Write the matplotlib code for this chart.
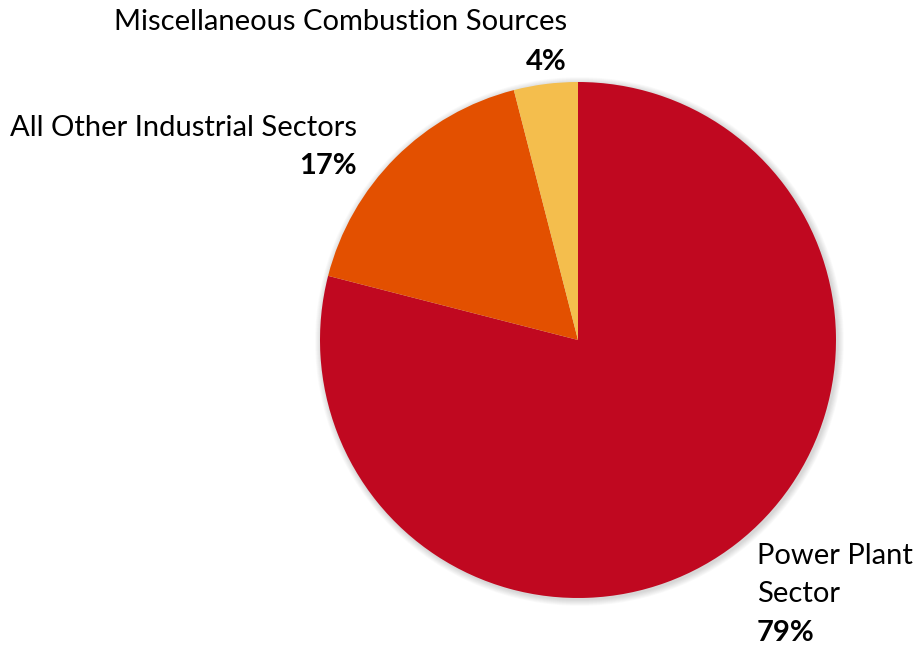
import matplotlib
matplotlib.use("Agg")
import matplotlib.pyplot as plt
from matplotlib.patches import Circle

labels = ["Power Plant\nSector", "All Other Industrial Sectors", "Miscellaneous Combustion Sources"]
shares = [79, 17, 4]
colors = ["#C00820", "#E35000", "#F4BE4D"]

W, H = 916, 646
fig = plt.figure(figsize=(W / 100, H / 100), dpi=100)
ax = fig.add_axes([0, 0, 1, 1])

cx, cy, r = 578, H - 340, 258

# soft drop shadow under the pie
for i in range(8, 0, -1):
    ax.add_patch(Circle((cx + 1.5, cy - 1.5), r + i * 0.8, color="black",
                        alpha=0.018, lw=0, zorder=1))

ax.pie(shares, colors=colors, startangle=90, counterclock=False,
       center=(cx, cy), radius=r, frame=True,
       wedgeprops=dict(linewidth=0, zorder=2))
ax.set_xlim(0, W)
ax.set_ylim(0, H)
ax.set_aspect("equal")
ax.axis("off")

font = "Lato"
fs = 21
ax.text(567, H - 22, labels[2], ha="right", va="center", fontsize=fs, family=font)
ax.text(567, H - 62, f"{shares[2]}%", ha="right", va="center", fontsize=fs,
        family=font, fontweight="bold")
ax.text(357, H - 128, labels[1], ha="right", va="center", fontsize=fs, family=font)
ax.text(357, H - 166, f"{shares[1]}%", ha="right", va="center", fontsize=fs,
        family=font, fontweight="bold")
ax.text(757, H - 556, "Power Plant", ha="left", va="center", fontsize=fs, family=font)
ax.text(757, H - 594, "Sector", ha="left", va="center", fontsize=fs, family=font)
ax.text(757, H - 633, f"{shares[0]}%", ha="left", va="center", fontsize=fs,
        family=font, fontweight="bold")

fig.savefig("out.png", dpi=100)
